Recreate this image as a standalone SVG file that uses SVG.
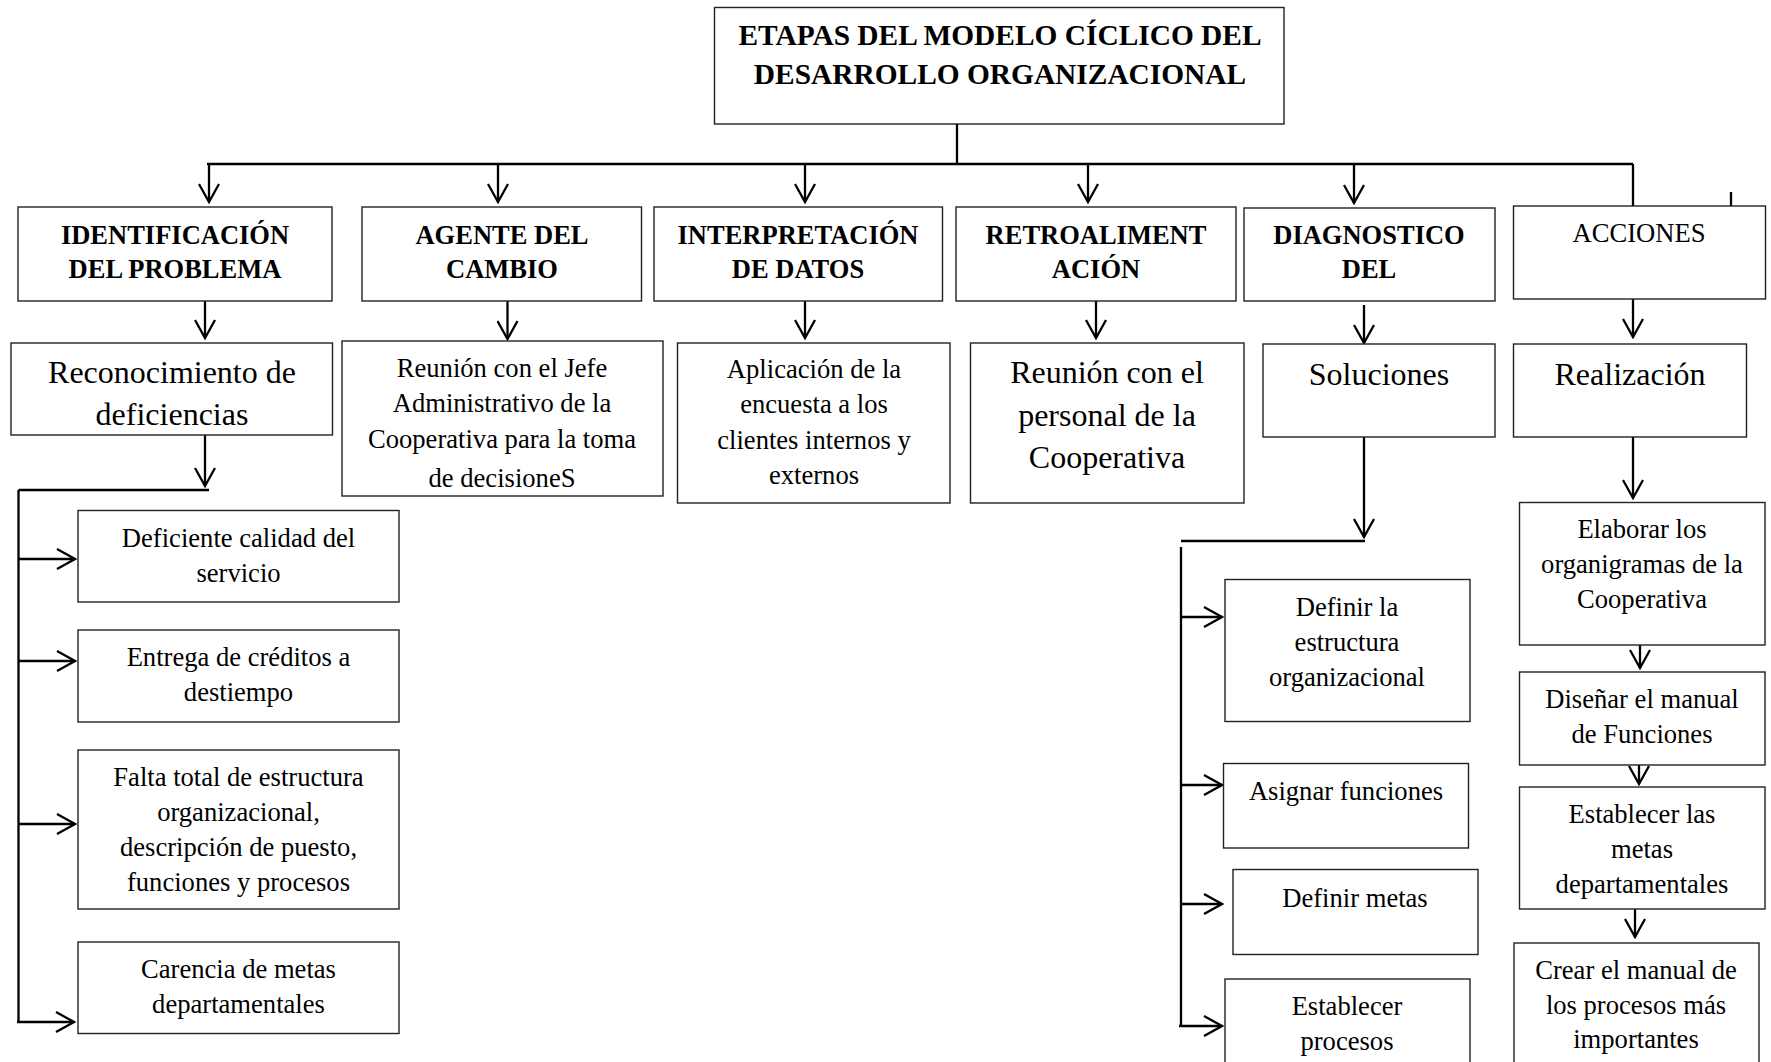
<svg xmlns="http://www.w3.org/2000/svg" width="1771" height="1062" viewBox="0 0 1771 1062">
  <defs>
    <style>
      .box { fill: #fff; stroke: #222; stroke-width: 1.4; }
      .t { font-family: "Liberation Serif", "Times New Roman", serif; fill: #000; text-anchor: middle; }
      .h { font-weight: bold; font-size: 26.5px; }
      .n { font-size: 26.6px; }
      .big { font-size: 32px; }
      .ttl { font-weight: bold; font-size: 29.4px; }
      .ln { fill: none; stroke: #000; stroke-width: 2.3; }
      .ar { marker-end: url(#arrow); }
    </style>
    <marker id="arrow" markerUnits="userSpaceOnUse" markerWidth="22" markerHeight="22" viewBox="0 0 22 22" refX="20" refY="11" orient="auto">
      <path d="M2,1 L20,11 L2,21" fill="none" stroke="#000" stroke-width="2.3"/>
    </marker>
  </defs>
  <rect width="1771" height="1062" fill="#fff"/>

  <!-- connectors -->
  <g id="connectors">
    <path class="ln" d="M957,124 V164 M207,164 H1633 M1633,164 V206 M1731,192 V206"/>
    <path class="ln ar" d="M209,164 V202"/>
    <path class="ln ar" d="M498,164 V202"/>
    <path class="ln ar" d="M805,164 V202"/>
    <path class="ln ar" d="M1088,164 V202"/>
    <path class="ln ar" d="M1354,164 V203"/>

    <path class="ln ar" d="M205,301 V338"/>
    <path class="ln ar" d="M507.5,301 V339"/>
    <path class="ln ar" d="M805,301 V338"/>
    <path class="ln ar" d="M1096,301 V338"/>
    <path class="ln ar" d="M1364,305 V343"/>
    <path class="ln ar" d="M1633,299 V337"/>

    <!-- problem branch -->
    <path class="ln ar" d="M205,435 V486"/>
    <path class="ln" d="M18.5,490 H209 M18.5,490 V1022"/>
    <path class="ln ar" d="M18.5,559 H75"/>
    <path class="ln ar" d="M18.5,661 H75"/>
    <path class="ln ar" d="M18.5,824 H75"/>
    <path class="ln ar" d="M17,1022 H74"/>

    <!-- solutions branch -->
    <path class="ln ar" d="M1364,437 V537"/>
    <path class="ln" d="M1181,541 H1365 M1181,547 V1026"/>
    <path class="ln ar" d="M1181,617 H1222"/>
    <path class="ln ar" d="M1181,785 H1222"/>
    <path class="ln ar" d="M1181,904 H1222"/>
    <path class="ln ar" d="M1179,1026 H1222"/>

    <!-- actions branch -->
    <path class="ln ar" d="M1633,437 V498"/>
    <path class="ln ar" d="M1640,645 V668"/>
    <path class="ln ar" d="M1639,765 V784"/>
    <path class="ln ar" d="M1635,909 V937"/>
  </g>

  <!-- title -->
  <g id="titulo">
    <rect class="box" x="714.5" y="7.5" width="569.5" height="116.5"/>
    <text class="t ttl" x="1000" y="45">ETAPAS DEL MODELO CÍCLICO DEL</text>
    <text class="t ttl" x="1000" y="84">DESARROLLO ORGANIZACIONAL</text>
  </g>

  <!-- stages -->
  <g id="identificacion">
    <rect class="box" x="18" y="207" width="314" height="94"/>
    <text class="t h" x="175" y="244">IDENTIFICACIÓN</text>
    <text class="t h" x="175" y="278">DEL PROBLEMA</text>
  </g>
  <g id="agente">
    <rect class="box" x="362" y="207" width="279.5" height="94"/>
    <text class="t h" x="502" y="244">AGENTE DEL</text>
    <text class="t h" x="502" y="278">CAMBIO</text>
  </g>
  <g id="interpretacion">
    <rect class="box" x="654" y="207" width="288.5" height="94"/>
    <text class="t h" x="798" y="244">INTERPRETACIÓN</text>
    <text class="t h" x="798" y="278">DE DATOS</text>
  </g>
  <g id="retroalimentacion">
    <rect class="box" x="956" y="207" width="280" height="94"/>
    <text class="t h" x="1096" y="244">RETROALIMENT</text>
    <text class="t h" x="1096" y="278">ACIÓN</text>
  </g>
  <g id="diagnostico">
    <rect class="box" x="1244" y="208" width="251" height="93"/>
    <text class="t h" x="1369" y="244">DIAGNOSTICO</text>
    <text class="t h" x="1369" y="278">DEL</text>
  </g>
  <g id="acciones">
    <rect class="box" x="1513.5" y="206" width="252" height="93"/>
    <text class="t n" x="1639" y="242">ACCIONES</text>
  </g>

  <!-- second row -->
  <g id="reconocimiento">
    <rect class="box" x="11" y="343" width="321.5" height="92"/>
    <text class="t big" x="172" y="383">Reconocimiento de</text>
    <text class="t big" x="172" y="425">deficiencias</text>
  </g>
  <g id="reunion-jefe">
    <rect class="box" x="342" y="341" width="321" height="155"/>
    <text class="t n" x="502" y="377">Reunión con el Jefe</text>
    <text class="t n" x="502" y="412">Administrativo de la</text>
    <text class="t n" x="502" y="448">Cooperativa para la toma</text>
    <text class="t n" x="502" y="487">de decisioneS</text>
  </g>
  <g id="aplicacion">
    <rect class="box" x="677.5" y="343" width="272.5" height="160"/>
    <text class="t n" x="814" y="378">Aplicación de la</text>
    <text class="t n" x="814" y="413">encuesta a los</text>
    <text class="t n" x="814" y="449">clientes internos y</text>
    <text class="t n" x="814" y="484">externos</text>
  </g>
  <g id="reunion-personal">
    <rect class="box" x="970.5" y="343" width="273.5" height="160"/>
    <text class="t big" x="1107" y="383">Reunión con el</text>
    <text class="t big" x="1107" y="426">personal de la</text>
    <text class="t big" x="1107" y="468">Cooperativa</text>
  </g>
  <g id="soluciones">
    <rect class="box" x="1263" y="344" width="232" height="93"/>
    <text class="t big" x="1379" y="385">Soluciones</text>
  </g>
  <g id="realizacion">
    <rect class="box" x="1513.5" y="344" width="233" height="93"/>
    <text class="t big" x="1630" y="385">Realización</text>
  </g>

  <!-- deficiencies -->
  <g id="deficiente-calidad">
    <rect class="box" x="78" y="510.5" width="321" height="91.5"/>
    <text class="t n" x="238.5" y="547">Deficiente calidad del</text>
    <text class="t n" x="238.5" y="582">servicio</text>
  </g>
  <g id="entrega-creditos">
    <rect class="box" x="78" y="630" width="321" height="92"/>
    <text class="t n" x="238.5" y="666">Entrega de créditos a</text>
    <text class="t n" x="238.5" y="701">destiempo</text>
  </g>
  <g id="falta-estructura">
    <rect class="box" x="78" y="750" width="321" height="159"/>
    <text class="t n" x="238.5" y="786">Falta total de estructura</text>
    <text class="t n" x="238.5" y="821">organizacional,</text>
    <text class="t n" x="238.5" y="856">descripción de puesto,</text>
    <text class="t n" x="238.5" y="891">funciones y procesos</text>
  </g>
  <g id="carencia-metas">
    <rect class="box" x="78" y="942" width="321" height="91.5"/>
    <text class="t n" x="238.5" y="978">Carencia de metas</text>
    <text class="t n" x="238.5" y="1013">departamentales</text>
  </g>

  <!-- solutions -->
  <g id="definir-estructura">
    <rect class="box" x="1225" y="579.5" width="245" height="142"/>
    <text class="t n" x="1347" y="616">Definir la</text>
    <text class="t n" x="1347" y="651">estructura</text>
    <text class="t n" x="1347" y="686">organizacional</text>
  </g>
  <g id="asignar-funciones">
    <rect class="box" x="1223.5" y="763.5" width="245" height="84.5"/>
    <text class="t n" x="1346" y="800">Asignar funciones</text>
  </g>
  <g id="definir-metas">
    <rect class="box" x="1233" y="869.5" width="245" height="85"/>
    <text class="t n" x="1355" y="907">Definir metas</text>
  </g>
  <g id="establecer-procesos">
    <rect class="box" x="1225" y="979" width="245" height="100"/>
    <text class="t n" x="1347" y="1015">Establecer</text>
    <text class="t n" x="1347" y="1050">procesos</text>
  </g>

  <!-- actions -->
  <g id="elaborar-organigramas">
    <rect class="box" x="1519.5" y="502.5" width="245.5" height="142.5"/>
    <text class="t n" x="1642" y="538">Elaborar los</text>
    <text class="t n" x="1642" y="573">organigramas de la</text>
    <text class="t n" x="1642" y="608">Cooperativa</text>
  </g>
  <g id="manual-funciones">
    <rect class="box" x="1519.5" y="672" width="245.5" height="93"/>
    <text class="t n" x="1642" y="708">Diseñar el manual</text>
    <text class="t n" x="1642" y="743">de Funciones</text>
  </g>
  <g id="metas-departamentales">
    <rect class="box" x="1519.5" y="787" width="245.5" height="122"/>
    <text class="t n" x="1642" y="823">Establecer las</text>
    <text class="t n" x="1642" y="858">metas</text>
    <text class="t n" x="1642" y="893">departamentales</text>
  </g>
  <g id="manual-procesos">
    <rect class="box" x="1514" y="943" width="245" height="140"/>
    <text class="t n" x="1636" y="979">Crear el manual de</text>
    <text class="t n" x="1636" y="1014">los procesos más</text>
    <text class="t n" x="1636" y="1048">importantes</text>
  </g>
</svg>
